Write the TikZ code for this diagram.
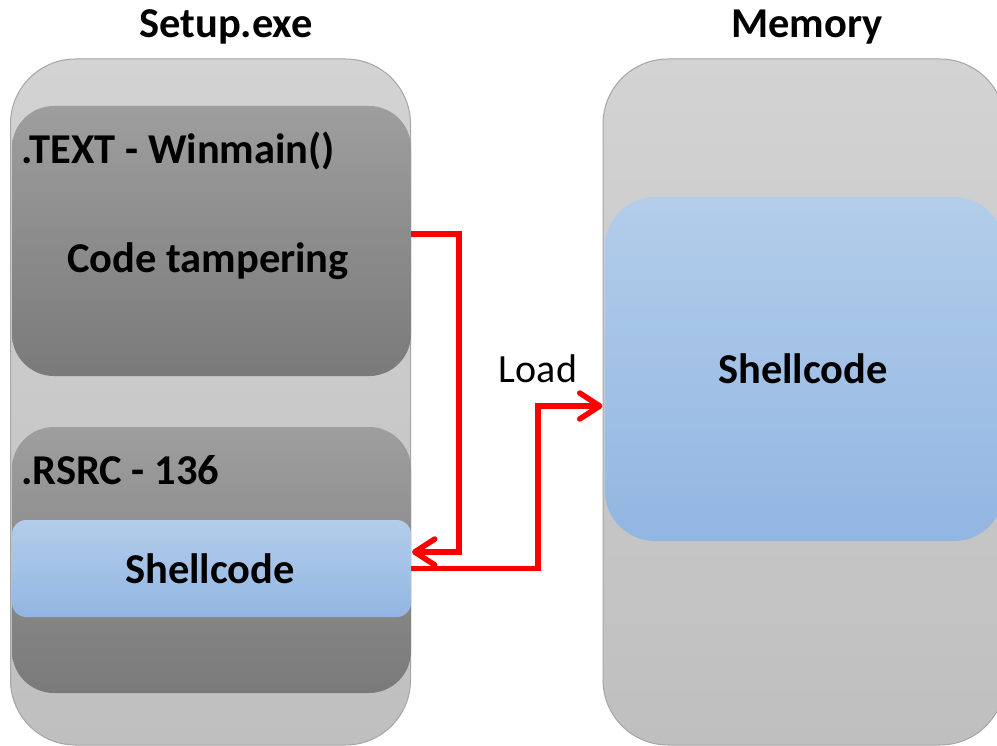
\documentclass[tikz,border=0pt]{standalone}
\usepackage{fontspec}
\setmainfont{Carlito}
\usetikzlibrary{arrows.meta}

\definecolor{frameTop}{HTML}{D3D3D3}
\definecolor{frameBot}{HTML}{BFBFBF}
\definecolor{frameLine}{HTML}{A6A6A6}
\definecolor{sectTop}{HTML}{9E9E9E}
\definecolor{sectBot}{HTML}{7A7A7A}
\definecolor{blueTop}{HTML}{B3CDEA}
\definecolor{blueBot}{HTML}{92B6E2}
\definecolor{arrowRed}{HTML}{FF0000}

\tikzset{
  frame/.style={rounded corners=65pt, draw=frameLine, line width=1pt,
    top color=frameTop, bottom color=frameBot, inner sep=0pt, outer sep=0pt},
  section/.style={rounded corners=42pt, top color=sectTop, bottom color=sectBot,
    inner sep=0pt, outer sep=0pt},
  payload/.style={top color=blueTop, bottom color=blueBot, inner sep=0pt, outer sep=0pt},
  heading/.style={font=\bfseries\fontsize{42.5}{50}\selectfont, inner sep=0pt},
  plain/.style={font=\fontsize{40}{48}\selectfont, inner sep=0pt},
  redarrow/.style={draw=arrowRed, line width=5.5pt,
    -{Straight Barb[length=20pt,width=26pt,round]}},
}

\begin{document}
\begin{tikzpicture}[x=1pt, y=-1pt]
\useasboundingbox (0,0) rectangle (997,746);
\clip (0,0) rectangle (997,746);
\fill[white] (0,0) rectangle (997,746);

% titles
\node[heading, anchor=base] (ttlsetup) at (226,38) {Setup.exe};
\node[heading, anchor=base] (ttlmem) at (807,38) {Memory};

% executable file with its two sections
\node[frame, minimum width=400pt, minimum height=686pt] (setup) at (210.5,402) {};
\node[section, minimum width=399pt, minimum height=270pt] (txt) at (211.5,241) {};
\node[heading, anchor=base west] (txtlbl) at (21,164) {.TEXT - Winmain()};
\node[heading, anchor=base] (tamper) at (208,273) {Code tampering};

\node[section, minimum width=399pt, minimum height=266pt] (rsrc) at (211.5,560) {};
\node[heading, anchor=base west] (rsrclbl) at (21,484) {.RSRC - 136};
\node[payload, rounded corners=14pt, minimum width=399pt, minimum height=97pt] (sc) at (211.5,568.5) {};
\node[heading, anchor=base] (sclbl) at (210,583) {Shellcode};

% process memory
\node[frame, minimum width=402pt, minimum height=686pt] (mem) at (804,402) {};
\node[payload, rounded corners=50pt, minimum width=399pt, minimum height=344pt] (memsc) at (804.5,369) {};
\node[heading, anchor=base] (memsclbl) at (803,384) {Shellcode};

% connectors
\draw[redarrow] ([yshift=7pt]txt.east) -- ++(48,0) |- ([yshift=16.5pt,xshift=1pt]sc.east);
\draw[redarrow] (sc.east) -- ++(127,0) |- ([yshift=-4pt,xshift=-0.5pt]mem.west);
\node[plain, anchor=base] (load) at (538,382) {Load};
\end{tikzpicture}
\end{document}
